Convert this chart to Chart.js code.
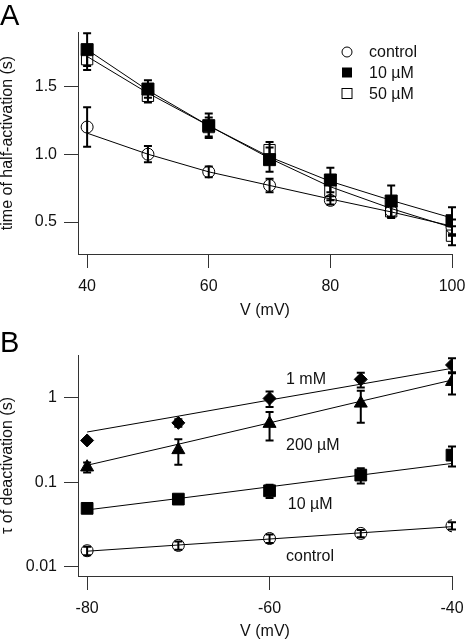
<!DOCTYPE html>
<html>
<head>
<meta charset="utf-8">
<script src="https://cdn.jsdelivr.net/npm/chart.js@4.4.1/dist/chart.umd.min.js"></script>
<style>
  body { margin: 0; background: #fff; }
  .panel { position: relative; width: 466px; }
  canvas { display: block; }
</style>
</head>
<body>
<div class="panel" style="height:320px"><canvas id="chartA" width="466" height="320"></canvas></div>
<div class="panel" style="height:321px"><canvas id="chartB" width="466" height="321"></canvas></div>
<script>
/* ---- Panel A : time of half-activation ---- */
const voltA     = [40, 50, 60, 70, 80, 90, 100];
const ctrlA     = [1.20, 1.00, 0.87, 0.77, 0.66, 0.58, 0.46];
const ctrlErrA  = [0.145, 0.06, 0.04, 0.05, 0.03, 0.04, 0.06];
const uM10A     = [1.77, 1.48, 1.21, 0.96, 0.81, 0.655, 0.51];
const uM10ErrA  = [0.12, 0.065, 0.09, 0.09, 0.09, 0.115, 0.10];
const uM50A     = [1.70, 1.43, 1.20, 1.03, 0.73, 0.58, 0.40];
const uM50ErrA  = [0.08, 0.05, 0.07, 0.06, 0.07, 0.05, 0.07];
const ctrlFitA  = [1.155, 1.00, 0.87, 0.77, 0.67, 0.575, 0.47];
const uM10FitA  = [1.77, 1.47, 1.21, 0.98, 0.80, 0.66, 0.53];
const uM50FitA  = [1.72, 1.45, 1.21, 0.97, 0.76, 0.60, 0.46];
const xTicksA   = [40, 60, 80, 100];
const yTicksA   = [0.5, 1.0, 1.5];
const legendA   = ["control", "10 µM", "50 µM"];

/* ---- Panel B : tau of deactivation ---- */
const voltB      = [-80, -70, -60, -50, -40];
const mM1B       = [0.31, 0.50, 0.97, 1.63, 2.41];
const mM1ErrB    = [0, 0.05, 0.20, 0.32, 0.48];
const uM200B     = [0.15, 0.24, 0.49, 0.85, 1.53];
const uM200ErrB  = [0.02, 0.08, 0.18, 0.35, 0.45];
const uM10B      = [0.049, 0.063, 0.079, 0.121, 0.208];
const uM10ErrB   = [0.003, 0.004, 0.014, 0.025, 0.055];
const ctrlB      = [0.0155, 0.0179, 0.0216, 0.0248, 0.0305];
const ctrlErrB   = [0.0018, 0.002, 0.0025, 0.0025, 0.003];
const mM1FitB    = [0.39, 0.60, 0.93, 1.43, 2.2];
const uM200FitB  = [0.158, 0.28, 0.50, 0.90, 1.6];
const uM10FitB   = [0.047, 0.064, 0.088, 0.121, 0.166];
const ctrlFitB   = [0.0153, 0.0181, 0.0213, 0.0252, 0.0298];
const xTicksB    = [-80, -60, -40];
const yTicksB    = [0.01, 0.1, 1];
const curveLabelsB = ["1 mM", "200 µM", "10 µM", "control"];

const FONT = "'Liberation Sans', Arial, Helvetica, sans-serif";
const INK  = "#111";
const AXIS = "#333";

function pts(xs, ys) { return xs.map((x, i) => ({ x, y: ys[i] })); }

function fitLine(xs, ys) {
  return { data: pts(xs, ys), showLine: true, borderColor: "#000", borderWidth: 1,
           pointRadius: 0, fill: false };
}

function markers(xs, ys, errs, style, radius, filled) {
  return { data: pts(xs, ys), errors: errs, showLine: false, pointStyle: style,
           pointRadius: radius, pointBorderWidth: 1, pointBorderColor: "#000",
           pointBackgroundColor: filled ? "#000" : "rgba(255,255,255,0)" };
}

// vertical error bars, drawn through the chart scales
const errorBars = {
  id: "errorBars",
  beforeDatasetsDraw(chart) {
    const { ctx } = chart;
    const xs = chart.scales.x, ys = chart.scales.y;
    chart.data.datasets.forEach(ds => {
      if (!ds.errors) return;
      ctx.save();
      ctx.strokeStyle = "#000";
      ctx.lineWidth = 2;
      ds.data.forEach((p, i) => {
        const e = ds.errors[i];
        if (!e) return;
        const x   = xs.getPixelForValue(p.x);
        const top = ys.getPixelForValue(p.y + e);
        const bot = ys.getPixelForValue(Math.max(p.y - e, ys.min));
        ctx.beginPath();
        ctx.moveTo(x, top); ctx.lineTo(x, bot);
        ctx.moveTo(x - 4, top); ctx.lineTo(x + 4, top);
        ctx.moveTo(x - 4, bot); ctx.lineTo(x + 4, bot);
        ctx.stroke();
      });
      ctx.restore();
    });
  }
};

function panelLetter(letter, baseline) {
  return {
    id: "letter" + letter,
    afterDraw(chart) {
      const ctx = chart.ctx;
      ctx.save();
      ctx.fillStyle = "#000";
      ctx.font = "29px " + FONT;
      ctx.textBaseline = "alphabetic";
      ctx.textAlign = "left";
      ctx.fillText(letter, 0, baseline);
      ctx.restore();
    }
  };
}

function axes(xMin, xMax, xTicks, yType, yMin, yMax, yTicks, yFmt, yTitle, xHeight) {
  const tickFont = { family: FONT, size: 16 };
  return {
    x: {
      type: "linear", min: xMin, max: xMax,
      afterBuildTicks: s => { s.ticks = xTicks.map(v => ({ value: v })); },
      afterFit: s => { s.height = xHeight; s.paddingLeft = 0; s.paddingRight = 0; },
      grid: { drawOnChartArea: false, drawTicks: true, tickLength: 14, color: AXIS, lineWidth: 1 },
      border: { display: true, color: AXIS, width: 1 },
      ticks: { font: tickFont, color: INK, padding: 9, maxRotation: 0 },
      title: { display: true, text: "V (mV)", font: { family: FONT, size: 16 }, color: INK,
               padding: { top: 0, bottom: 0 } }
    },
    y: {
      type: yType, min: yMin, max: yMax,
      afterBuildTicks: s => { s.ticks = yTicks.map(v => ({ value: v })); },
      afterFit: s => { s.width = 78; s.paddingTop = 0; s.paddingBottom = 0; },
      grid: { drawOnChartArea: false, drawTicks: true, tickLength: 14, color: AXIS, lineWidth: 1 },
      border: { display: true, color: AXIS, width: 1 },
      ticks: { font: tickFont, color: INK, padding: 7, callback: yFmt },
      title: { display: true, text: yTitle, font: { family: FONT, size: 16, lineHeight: 1 },
               color: INK, padding: 0 }
    }
  };
}

const baseOptions = {
  responsive: false,
  animation: false,
  devicePixelRatio: 1,
  plugins: { legend: { display: false }, tooltip: { enabled: false } }
};

/* ---- Panel A ---- */
const legendA_plugin = {
  id: "legendA",
  afterDraw(chart) {
    const ctx = chart.ctx;
    const rows = [52, 72.5, 93.5];
    ctx.save();
    ctx.strokeStyle = "#000";
    ctx.fillStyle = "#000";
    ctx.lineWidth = 1;
    // marker column
    ctx.beginPath(); ctx.arc(347, rows[0], 5, 0, Math.PI * 2); ctx.stroke();
    ctx.fillRect(342, rows[1] - 5, 10, 10);
    ctx.strokeRect(342, rows[2] - 5, 10, 10);
    ctx.font = "16px " + FONT;
    ctx.textBaseline = "middle";
    ctx.textAlign = "left";
    ctx.fillStyle = INK;
    legendA.forEach((t, i) => ctx.fillText(t, 369, rows[i] + 1));
    ctx.restore();
  }
};

new Chart(document.getElementById("chartA"), {
  type: "scatter",
  data: {
    datasets: [
      markers(voltA, uM10A, uM10ErrA, "rect", 8.5, true),
      markers(voltA, uM50A, uM50ErrA, "rect", 8, false),
      markers(voltA, ctrlA, ctrlErrA, "circle", 6, false),
      fitLine(voltA, uM10FitA),
      fitLine(voltA, uM50FitA),
      fitLine(voltA, ctrlFitA)
    ]
  },
  options: Object.assign({}, baseOptions, {
    layout: { padding: { top: 32, right: 14, left: 0, bottom: 0 } },
    scales: axes(38.5, 100, xTicksA, "linear", 0.265, 1.9, yTicksA,
                 v => v.toFixed(1), "time of half-activation (s)", 66)
  }),
  plugins: [errorBars, legendA_plugin, panelLetter("A", 25)]
});

/* ---- Panel B ---- */
const labelsB_plugin = {
  id: "labelsB",
  afterDraw(chart) {
    const ctx = chart.ctx;
    const xs = chart.scales.x, ys = chart.scales.y;
    const anchors = [[-58.2, 1.6], [-58.2, 0.27], [-58.0, 0.0546], [-58.2, 0.0131]];
    ctx.save();
    ctx.font = "16px " + FONT;
    ctx.fillStyle = INK;
    ctx.textBaseline = "middle";
    ctx.textAlign = "left";
    curveLabelsB.forEach((t, i) => {
      ctx.fillText(t, xs.getPixelForValue(anchors[i][0]), ys.getPixelForValue(anchors[i][1]));
    });
    ctx.restore();
  }
};

new Chart(document.getElementById("chartB"), {
  type: "scatter",
  data: {
    datasets: [
      markers(voltB, mM1B, mM1ErrB, "rectRot", 6.5, true),
      markers(voltB, uM200B, uM200ErrB, "triangle", 7.5, true),
      markers(voltB, uM10B, uM10ErrB, "rect", 8.3, true),
      markers(voltB, ctrlB, ctrlErrB, "circle", 6, false),
      fitLine(voltB, mM1FitB),
      fitLine(voltB, uM200FitB),
      fitLine(voltB, uM10FitB),
      fitLine(voltB, ctrlFitB)
    ]
  },
  options: Object.assign({}, baseOptions, {
    layout: { padding: { top: 35, right: 14, left: 0, bottom: 0 } },
    scales: axes(-81, -40, xTicksB, "logarithmic", 0.0078, 3.16, yTicksB,
                 v => String(v), "τ of deactivation (s)", 65)
  }),
  plugins: [errorBars, labelsB_plugin, panelLetter("B", 32)]
});
</script>
</body>
</html>
